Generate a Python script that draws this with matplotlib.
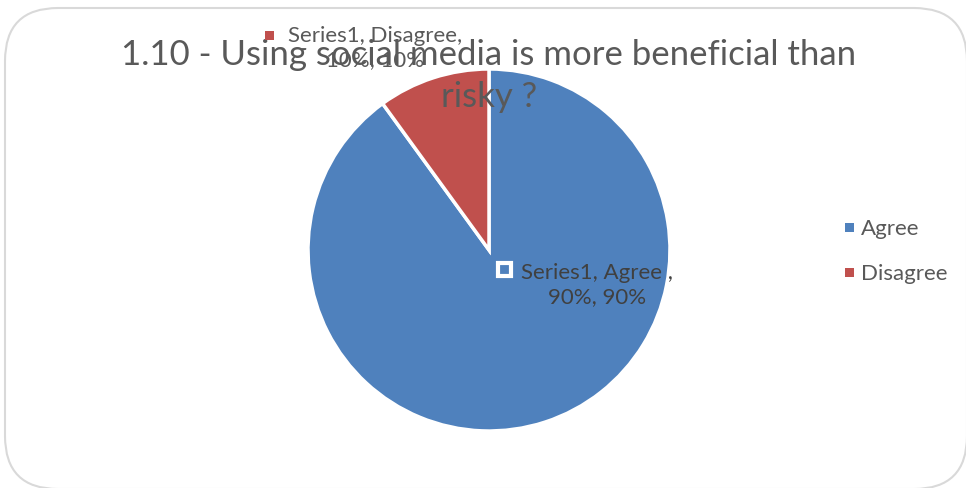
import matplotlib
matplotlib.use("Agg")
import matplotlib.pyplot as plt
from matplotlib.patches import FancyBboxPatch, Rectangle

# answers to question 1.10
categories = ["Agree", "Disagree"]
shares = [90, 10]
colors = ["#4F81BD", "#C0504D"]
title = "1.10 - Using social media is more beneficial than\nrisky ?"

W, H = 966, 489
plt.rcParams['font.family'] = ['Lato', 'DejaVu Sans']
grey = "#595959"

fig = plt.figure(figsize=(W / 100, H / 100), dpi=100)


def px(x, y):
    # pixel position (from top-left) -> figure fraction
    return x / W, 1 - y / H


# rounded chart frame, kept behind everything else
frame = FancyBboxPatch(px(5, 490), (967 - 5) / W, (490 - 9) / H,
                       boxstyle="round,pad=0,rounding_size=0.055",
                       transform=fig.transFigure, facecolor="white",
                       edgecolor="#D9D9D9", linewidth=1.5, mutation_aspect=W / H,
                       zorder=-5)
fig.patches.append(frame)

# pie centred at (489, 251) with radius 181 px
cx, cy, r = 489, 251, 181
ax = fig.add_axes([(cx - r) / W, (H - cy - r) / H, 2 * r / W, 2 * r / H])
ax.pie(shares, colors=colors, startangle=90, counterclock=False, radius=1,
       wedgeprops=dict(edgecolor="white", linewidth=2.5))
ax.set_xlim(-1, 1)
ax.set_ylim(-1, 1)
ax.set_aspect("equal")
ax.axis("off")

# title
fig.text(*px(489, 76), title, ha="center", va="center", fontsize=25,
         color=grey, linespacing=1.35, zorder=3)

# data labels
lbl = [f"Series1, {c} ,\n{s}%, {s}%" if c == "Agree" else f"Series1, {c},\n{s}%, {s}%"
       for c, s in zip(categories, shares)]
fig.text(*px(597, 285), lbl[0], ha="center", va="center", fontsize=16,
         color="#404040", linespacing=1.3, zorder=4)
fig.patches.append(Rectangle(px(498, 277), 13 / W, 13 / H, transform=fig.transFigure,
                             facecolor=colors[0], edgecolor="white", linewidth=3,
                             zorder=4))
fig.text(*px(375, 48), lbl[1], ha="center", va="center", fontsize=16,
         color=grey, linespacing=1.3, zorder=4)
fig.patches.append(Rectangle(px(265, 41), 9 / W, 9 / H, transform=fig.transFigure,
                             facecolor=colors[1], edgecolor="none", zorder=4))

# legend
for i, (c, col) in enumerate(zip(categories, colors)):
    y = 229 + i * 45
    fig.patches.append(Rectangle(px(845, y + 4), 9 / W, 9 / H, transform=fig.transFigure,
                                 facecolor=col, edgecolor="none", zorder=4))
    fig.text(*px(861, y), c, ha="left", va="center", fontsize=16, color=grey, zorder=4)

fig.savefig("out.png", dpi=100)
